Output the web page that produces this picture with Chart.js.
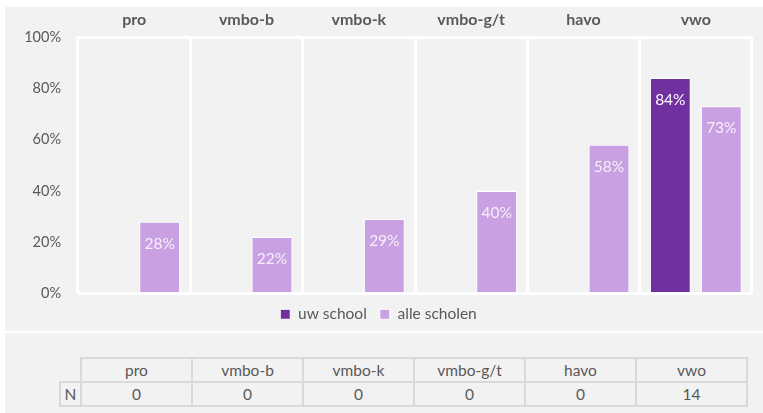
<!DOCTYPE html>
<html>
<head>
<meta charset="utf-8">
<script src="https://cdn.jsdelivr.net/npm/chart.js@4.4.1/dist/chart.umd.min.js"></script>
<style>
    html, body { margin: 0; padding: 0; background: #fff; }
    body { width: 763px; height: 413px; position: relative; overflow: hidden; font-family: Lato, "Open Sans", sans-serif; }
    #chartBox { position: absolute; left: 5px; top: 7px; width: 758px; height: 324px; background: #f2f2f2; overflow: hidden; }
    #tableBox { position: absolute; left: 5px; top: 333px; width: 758px; height: 80px; background: #f2f2f2; }
    #nTable { position: absolute; left: 54px; top: 24px; border-collapse: collapse; color: #595959; font-size: 15.5px; }
    #nTable td { border: 2px solid #d9d9d9; height: 22px; padding: 0; text-align: center; }
    #nTable td.lbl { width: 19px; }
    #nTable td.col { width: 109px; }
    #nTable td.blank { border-top: none; border-left: none; }
</style>
</head>
<body>
<div id="chartBox"><canvas id="scoreChart" width="758" height="329"></canvas></div>
<div id="tableBox"><table id="nTable"></table></div>
<script>
var categories = ['pro', 'vmbo-b', 'vmbo-k', 'vmbo-g/t', 'havo', 'vwo'];
var uwSchool = [null, null, null, null, null, 84];
var alleScholen = [28, 22, 29, 40, 58, 73];
var nCounts = [0, 0, 0, 0, 0, 14];
var yTicks = [0, 20, 40, 60, 80, 100];

(function () {
    var TEXT = '#595959';
    var FONT = 'Lato, "Open Sans", sans-serif';

    function buildTable() {
        var tbl = document.getElementById('nTable');
        var head = '<tr><td class="lbl blank"></td>';
        var row = '<tr><td class="lbl">N</td>';
        categories.forEach(function (c, i) {
            head += '<td class="col">' + c + '</td>';
            row += '<td class="col">' + nCounts[i] + '</td>';
        });
        tbl.innerHTML = head + '</tr>' + row + '</tr>';
    }

    // percentage text inside the top of each bar
    var valueLabels = {
        id: 'valueLabels',
        afterDatasetsDraw: function (chart) {
            var ctx = chart.ctx;
            ctx.save();
            ctx.font = '15.5px ' + FONT;
            ctx.textAlign = 'center';
            ctx.textBaseline = 'middle';
            chart.data.datasets.forEach(function (ds, di) {
                var meta = chart.getDatasetMeta(di);
                meta.data.forEach(function (el, i) {
                    var v = ds.data[i];
                    if (v === null || v === undefined) return;
                    ctx.fillStyle = di === 0 ? '#ffffff' : '#f7f0fb';
                    ctx.fillText(v + '%', el.x, el.y + 22);
                });
            });
            ctx.restore();
        }
    };

    function initChart() {
        var el = document.getElementById('scoreChart');
        new Chart(el, {
            type: 'bar',
            data: {
                labels: categories,
                datasets: [
                    {
                        label: 'uw school',
                        data: uwSchool,
                        backgroundColor: '#7030a0',
                        borderColor: '#ffffff',
                        borderWidth: 1
                    },
                    {
                        label: 'alle scholen',
                        data: alleScholen,
                        backgroundColor: '#c9a0e2',
                        borderColor: '#ffffff',
                        borderWidth: 1
                    }
                ]
            },
            options: {
                responsive: false,
                animation: false,
                layout: { padding: { left: 0, right: 11, top: 0, bottom: 4 } },
                datasets: { bar: { categoryPercentage: 0.908, barPercentage: 0.8, skipNull: false } },
                scales: {
                    x: {
                        position: 'top',
                        offset: true,
                        grid: { offset: true, color: '#ffffff', lineWidth: 3, drawTicks: false },
                        border: { display: false },
                        ticks: { color: TEXT, font: { family: FONT, size: 16, weight: 'bold' }, padding: 8 },
                        afterFit: function (s) { s.height = 30; }
                    },
                    y: {
                        min: yTicks[0],
                        max: yTicks[yTicks.length - 1],
                        afterBuildTicks: function (s) {
                            s.ticks = yTicks.map(function (v) { return { value: v }; });
                        },
                        grid: {
                            drawTicks: false,
                            lineWidth: 3,
                            color: function (c) {
                                return (c.tick && (c.tick.value === 0 || c.tick.value === 100)) ? '#ffffff' : 'rgba(0,0,0,0)';
                            }
                        },
                        border: { display: false },
                        ticks: {
                            color: TEXT,
                            font: { family: FONT, size: 14.5 },
                            padding: 17,
                            callback: function (v) { return v + '%'; }
                        },
                        afterFit: function (s) { s.width = 73; }
                    }
                },
                plugins: {
                    legend: {
                        position: 'bottom',
                        labels: {
                            color: TEXT,
                            font: { family: FONT, size: 15.5 },
                            boxWidth: 10,
                            boxHeight: 10,
                            padding: 13
                        }
                    },
                    tooltip: { enabled: false }
                }
            },
            plugins: [valueLabels]
        });
    }

    function boot() {
        buildTable();
        initChart();
    }

    if (document.readyState === 'loading') {
        document.addEventListener('DOMContentLoaded', boot);
    } else {
        boot();
    }
})();
</script>
</body>
</html>
